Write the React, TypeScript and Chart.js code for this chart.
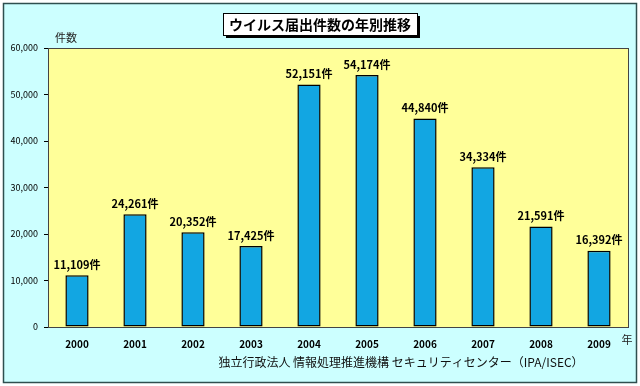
import React, { useEffect, useRef } from 'react';
import { Chart, registerables } from 'chart.js';

Chart.register(...registerables);

const years = ['2000', '2001', '2002', '2003', '2004', '2005', '2006', '2007', '2008', '2009'];
const counts = [11109, 24261, 20352, 17425, 52151, 54174, 44840, 34334, 21591, 16392];
const yMin = 0;
const yMax = 60000;
const yStep = 10000;
const titleText = 'ウイルス届出件数の年別推移';
const yAxisTitle = '件数';
const xAxisTitle = '年';
const sourceText = '独立行政法人 情報処理推進機構 セキュリティセンター（IPA/ISEC）';
const unit = '件';

const JP = '"Noto Sans CJK JP", "DejaVu Sans", sans-serif';
const fmt = (v: number) => v.toLocaleString('en-US');

export default function App() {
  const ref = useRef<HTMLCanvasElement | null>(null);

  useEffect(() => {
    if (!ref.current) return;
    const deco = {
      id: 'deco',
      beforeDraw(chart: any) {
        const ctx = chart.ctx;
        const a = chart.chartArea;
        ctx.save();
        ctx.fillStyle = '#ffffff';
        ctx.fillRect(0, 0, 640, 386);
        ctx.fillStyle = '#ccffff';
        ctx.fillRect(3, 3, 634, 380);
        ctx.strokeStyle = '#2f4f4f';
        ctx.lineWidth = 1.5;
        ctx.strokeRect(3.5, 3.5, 633, 379);
        ctx.fillStyle = '#ffff99';
        ctx.fillRect(a.left, a.top, a.right - a.left, a.bottom - a.top);
        ctx.restore();
      },
      afterDraw(chart: any) {
        const ctx = chart.ctx;
        const a = chart.chartArea;
        ctx.save();
        ctx.strokeStyle = '#444';
        ctx.lineWidth = 1;
        ctx.strokeRect(a.left + 0.5, a.top + 0.5, a.right - a.left, a.bottom - a.top);

        // title box
        ctx.font = 'bold 14px ' + JP;
        const tw = ctx.measureText(titleText).width;
        const bw = tw + 12;
        const bx = 320 - bw / 2;
        const by = 13;
        const bh = 22;
        ctx.fillStyle = '#000';
        ctx.fillRect(bx + 3, by + 3, bw, bh);
        ctx.fillStyle = '#fff';
        ctx.fillRect(bx, by, bw, bh);
        ctx.strokeStyle = '#000';
        ctx.strokeRect(bx + 0.5, by + 0.5, bw, bh);
        ctx.fillStyle = '#000';
        ctx.textAlign = 'center';
        ctx.textBaseline = 'middle';
        ctx.fillText(titleText, 320, by + bh / 2 + 1);

        // axis titles
        ctx.font = '11px ' + JP;
        ctx.fillStyle = '#222';
        ctx.fillText(yAxisTitle, 66, 38);
        ctx.fillText(xAxisTitle, 627, 340);

        // source
        ctx.font = '12px ' + JP;
        ctx.fillStyle = '#111';
        ctx.fillText(sourceText, 401, 362);

        // bar labels
        const meta = chart.getDatasetMeta(0);
        ctx.font = 'bold 11px ' + JP;
        ctx.fillStyle = '#000';
        ctx.textBaseline = 'bottom';
        meta.data.forEach((bar: any, i: number) => {
          ctx.fillText(fmt(counts[i]) + unit, bar.x, bar.y - 5);
        });
        ctx.restore();
      },
    };

    const chart = new Chart(ref.current, {
      type: 'bar',
      data: {
        labels: years,
        datasets: [
          {
            data: counts,
            backgroundColor: '#12a6e2',
            borderColor: '#000',
            borderWidth: 1.5,
            borderSkipped: false,
            categoryPercentage: 0.8,
            barPercentage: 0.5,
          },
        ],
      },
      options: {
        responsive: false,
        animation: false,
        layout: { padding: { top: 48, right: 12, bottom: 0, left: 0 } },
        plugins: { legend: { display: false }, tooltip: { enabled: false }, title: { display: false } },
        scales: {
          x: {
            grid: { display: false },
            border: { display: false },
            ticks: {
              padding: 3,
              color: '#000',
              font: { family: JP, size: 10, weight: 'bold' },
            },
            afterFit(scale: any) {
              scale.height = 59;
            },
          },
          y: {
            min: yMin,
            max: yMax,
            grid: { drawOnChartArea: false, drawTicks: true, tickLength: 4, color: '#000' },
            border: { display: false },
            ticks: {
              stepSize: yStep,
              padding: 6,
              color: '#000',
              font: { family: JP, size: 9 },
              callback: (v: any) => fmt(Number(v)),
            },
            afterFit(scale: any) {
              scale.width = 48;
            },
          },
        },
      },
      plugins: [deco],
    } as any);
    return () => chart.destroy();
  }, []);

  return (
    <div style={{ position: 'absolute', left: 0, top: 0, width: 640, height: 386 }}>
      <canvas ref={ref} width={640} height={386} style={{ display: 'block' }} />
    </div>
  );
}
